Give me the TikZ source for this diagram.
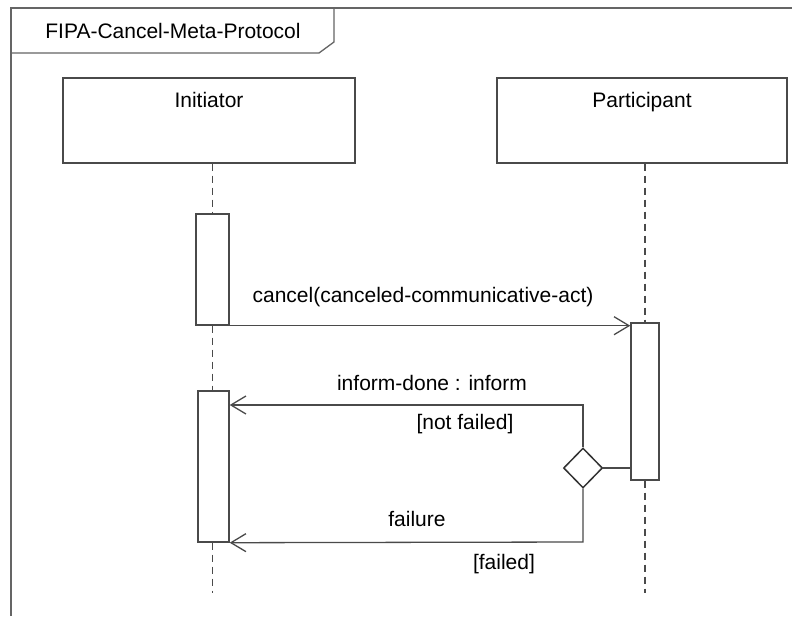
\documentclass[tikz,border=0pt]{standalone}
\usepackage{fontspec}
\setmainfont{Liberation Sans}
\usetikzlibrary{shapes.geometric,arrows.meta}
\definecolor{ink}{HTML}{4A4A4A}
\begin{document}
\begin{tikzpicture}[x=1pt,y=-1pt,
  every node/.style={font=\fontsize{21}{25}\selectfont},
  frameline/.style={draw=ink!85,line width=1.3pt},
  lifebox/.style={draw=ink,line width=1.3pt,rectangle,inner sep=0pt,minimum width=#1,minimum height=85pt},
  actbox/.style={draw=ink,line width=1.4pt,fill=white,rectangle,inner sep=0pt},
  lifeline/.style={draw=ink,line width=1.1pt,dash pattern=on 7pt off 5pt},
  msg/.style={draw=ink,line width=1.3pt,-{Straight Barb[length=15pt,width=18pt]}},
  plain/.style={draw=ink,line width=1.3pt},
  choice/.style={draw=black!80,line width=1.5pt,diamond,aspect=1,inner sep=0pt,minimum width=39pt,minimum height=40pt,fill=white},
  lbl/.style={inner sep=0pt,text=black}]
  % page
  \fill[white] (0,0) rectangle (792,616);
  \useasboundingbox (0,0) rectangle (792,616);

  % frame with its name tab
  \draw[frameline] (11,616) -- (11,8) -- (792,8);
  \draw[frameline] (11,53) -- (319,53) -- (334,42) -- (334,8);
  \node[lbl] (title) at (173,31) {FIPA-Cancel-Meta-Protocol};

  % lifeline heads
  \node[lifebox=292pt] (init) at (209,120.5) {};
  \node[lbl,anchor=north] (initL) at (209,92) {Initiator};
  \node[lifebox=290pt] (part) at (642,120.5) {};
  \node[lbl,anchor=north] (partL) at (642,92) {Participant};

  % activations
  \node[actbox,minimum width=33pt,minimum height=111pt] (act1) at (212.5,269.5) {};
  \node[actbox,minimum width=31pt,minimum height=151pt] (act2) at (213.5,466.5) {};
  \node[actbox,minimum width=28pt,minimum height=157pt] (act3) at (645,401.5) {};

  % lifeline ends
  \coordinate (endI) at (212.5,593);
  \coordinate (endP) at (645,593);

  % dashed lifelines
  \draw[lifeline] (act1.north |- init.south) -- (act1.north);
  \draw[lifeline] (act1.south) -- (act1.south |- act2.north);
  \draw[lifeline] (act1.south |- act2.south) -- (endI);
  \draw[lifeline] (act3.north |- part.south) -- (act3.north);
  \draw[lifeline] (act3.south) -- (endP);

  % decision
  \node[choice] (dec) at (583,468) {};
  \coordinate (brA) at (583,405);
  \coordinate (brB) at (583,542);

  % messages
  \draw[msg] (act1.south east) -- (act1.south east -| act3.west);
  \node[lbl] (cancelL) at (423,297) {cancel(canceled-communicative-act)};

  \draw[plain] (act3.west |- dec.east) -- (dec.east);
  \draw[msg] (dec.north) -- (brA) -- (act2.east |- brA);
  \node[lbl] (informL) at (432,383) {inform-done : inform};
  \node[lbl] (notfailedL) at (465,424) {[not failed]};

  \draw[msg] (dec.south) -- (brB) -- (act2.south east);
  \node[lbl] (failureL) at (417,519) {failure};
  \node[lbl] (failedL) at (504,564) {[failed]};
\end{tikzpicture}
\end{document}
